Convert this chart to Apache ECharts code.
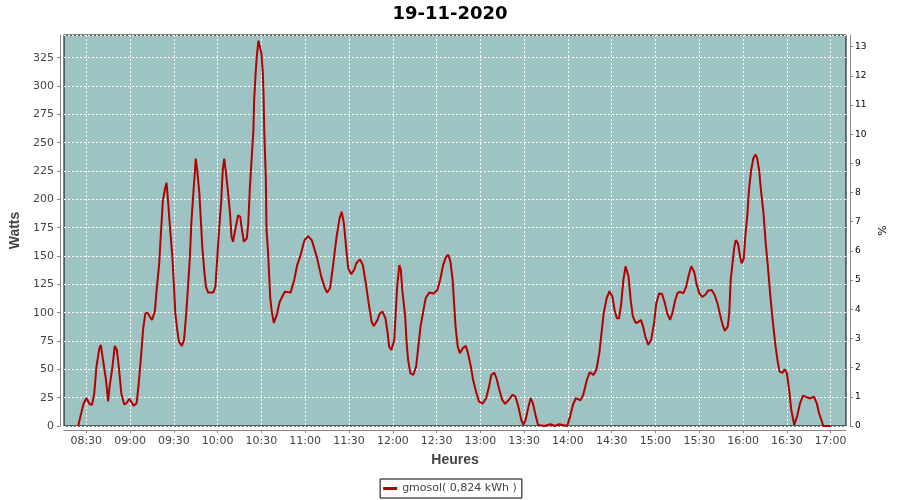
<!DOCTYPE html>
<html>
<head>
<meta charset="utf-8">
<script src="https://cdn.jsdelivr.net/npm/echarts@6/dist/echarts.min.js"></script>
<style>html,body{margin:0;padding:0;background:#fff}#c{width:900px;height:500px}</style>
</head>
<body>
<div id="c"></div>
<script>
const chartTitle = '19-11-2020';
const seriesName = 'gmosol( 0,824 kWh )';
const xTickLabels = ['08:30','09:00','09:30','10:00','10:30','11:00','11:30','12:00','12:30','13:00','13:30','14:00','14:30','15:00','15:30','16:00','16:30','17:00'];
const times = [
'08:24:30','08:26:00','08:28:00','08:30:00','08:32:30','08:34:00','08:35:30','08:37:00','08:39:00','08:40:00',
'08:41:30','08:43:30','08:45:00','08:46:00','08:48:00','08:49:30','08:51:00','08:52:30','08:54:00','08:56:00',
'08:57:30','08:59:30','09:01:00','09:02:30','09:04:30','09:06:00','09:07:30','09:09:00','09:10:30','09:12:00',
'09:13:30','09:15:00','09:17:00','09:18:00','09:20:00','09:21:00','09:22:30','09:24:00','09:25:00','09:26:00',
'09:27:30','09:29:00','09:30:00','09:31:00','09:32:30','09:33:30','09:35:30','09:37:00','09:38:30','09:39:30',
'09:41:00','09:42:00','09:43:30','09:44:30','09:45:00','09:46:00','09:47:30','09:48:30','09:49:30','09:51:00',
'09:52:00','09:53:30','09:57:00','09:58:30','09:59:30','10:01:00','10:02:30','10:03:30','10:04:30','10:05:30',
'10:07:00','10:08:30','10:09:30','10:10:30','10:12:30','10:14:00','10:15:30','10:16:30','10:18:00','10:20:00',
'10:21:00','10:22:00','10:23:30','10:24:30','10:25:00','10:26:00','10:27:00','10:28:00','10:29:00','10:30:00',
'10:31:00','10:31:30','10:32:00','10:33:00','10:33:30','10:34:30','10:36:00','10:37:00','10:38:30','10:40:30',
'10:42:30','10:46:00','10:50:00','10:52:30','10:54:30','10:56:30','10:59:30','11:02:00','11:04:30','11:08:00',
'11:11:00','11:13:30','11:15:00','11:17:00','11:19:00','11:21:30','11:23:30','11:25:00','11:26:30','11:28:00',
'11:29:30','11:31:30','11:33:30','11:35:00','11:37:30','11:39:30','11:41:30','11:43:30','11:45:30','11:47:00',
'11:49:30','11:51:00','11:53:00','11:55:00','11:56:30','11:57:30','11:59:00','12:01:00','12:02:00','12:03:00',
'12:04:30','12:05:30','12:06:30','12:08:30','12:09:30','12:10:30','12:12:00','12:14:00','12:16:00','12:17:30',
'12:19:00','12:21:00','12:22:30','12:25:00','12:28:00','12:30:30','12:32:30','12:34:30','12:36:30','12:38:00',
'12:39:30','12:41:00','12:42:00','12:43:00','12:44:30','12:46:00','12:48:00','12:50:00','12:51:30','12:53:30',
'12:55:00','12:57:00','12:59:00','13:01:30','13:04:00','13:06:00','13:07:30','13:09:30','13:11:00','13:13:00',
'13:15:00','13:17:00','13:19:30','13:22:00','13:24:00','13:26:00','13:28:00','13:29:30','13:31:00','13:33:00',
'13:34:30','13:36:00','13:38:00','13:39:30','13:40:30','13:44:00','13:45:00','13:48:00','13:49:00','13:51:00',
'13:52:00','13:54:00','13:55:00','13:59:30','14:01:30','14:03:30','14:05:30','14:08:30','14:10:30','14:13:00',
'14:15:00','14:17:30','14:19:30','14:21:30','14:23:00','14:24:30','14:26:30','14:28:30','14:30:30','14:32:00',
'14:33:30','14:35:00','14:36:30','14:38:00','14:39:30','14:41:30','14:43:00','14:44:30','14:46:30','14:48:30',
'14:50:00','14:51:30','14:53:00','14:55:00','14:57:00','14:59:00','15:00:30','15:02:30','15:04:30','15:06:30',
'15:08:00','15:10:00','15:11:30','15:13:30','15:15:00','15:16:30','15:19:00','15:21:00','15:22:30','15:24:30',
'15:26:30','15:28:00','15:30:00','15:32:00','15:34:00','15:36:00','15:38:30','15:40:30','15:42:30','15:44:00',
'15:46:00','15:47:30','15:49:30','15:50:30','15:51:30','15:53:00','15:54:00','15:55:00','15:56:30','15:58:00',
'15:59:00','16:00:30','16:01:30','16:03:00','16:04:00','16:05:30','16:07:00','16:08:30','16:09:30','16:11:00',
'16:12:00','16:14:00','16:15:30','16:17:00','16:18:30','16:20:00','16:22:00','16:23:30','16:25:00','16:27:00',
'16:28:30','16:30:00','16:31:30','16:33:00','16:35:00','16:35:30','16:37:00','16:39:00','16:41:00','16:43:30',
'16:46:00','16:48:30','16:50:30','16:52:00','16:54:00','16:55:00','17:00:00'
];
const watts = [
0,8.5,19,24.7,19,19,29,52.5,68.7,71.6,
58,40.8,21.7,35,52.5,70.7,67,49.6,29,19,
20,24,21,18,20,38,61,86,99.5,100,
96.5,93.6,101,117,143.5,167,199,209.6,214.6,199,
173,149,126,99.5,83,74.5,70.7,76,99.5,118.5,
149,179,208,225.7,236,225.7,205,181.7,158,134.7,
123,117.7,117.7,123,143.5,173,199,225.7,236,225.7,
208,187.6,167,162.6,175.8,186,184.6,174.4,162.6,165.6,
178.8,208,240,261,287,311,328.5,340,341.7,328.5,
311,290,258,220,173,155,114,102,91,98,
109.7,118.5,117.7,129,142,149.4,164,167.6,164,149,
131.8,121.5,117.7,121.5,140.6,167,183,189,178.8,158,
139,134,137.7,143.6,147,142,126,108,92,88.3,
93.6,99,101,95,82,70,67,76,99.5,123,
142,137.7,120,96.5,73,58.4,46.7,45,52.5,70,
87.7,102,112.7,117.7,117,120,129,142,149.4,151,
145,129,108,87.7,70,64.3,68.7,70.7,64.3,52.5,
40.8,30.5,21.7,19.6,24.7,35,45,47,42.3,32,
23,19.6,23,27.6,26,17.3,5.5,1,5.5,17.3,
24.7,20,8.5,1,0,0,1.5,1.5,0,0,
1.5,1.5,0,0,8.5,19,24.7,22.6,27.6,40.8,
47.5,45,49.6,64.3,82,99.5,112.7,119,114,102,
95,95,108,129,141,131.8,111,96.5,90.7,92,
93.6,87.7,79,71.6,76,90.7,108,117,116.5,108,
99.5,93.6,99.5,111,117,118.5,117,123,131.8,141,
136,126,117,114,115.6,119.4,120,115.6,108,99.5,
89,84,87.7,99.5,129,146.5,158,164,161,149,
143.5,148,167,187.6,208,225.7,236,239.6,237,225.7,
211,187.6,161,140.6,117,96.5,73,58.4,48,47,
50,46.7,32,14.4,1,0,8.5,20,26.7,25.5,
24.3,26,20,11.4,4,0,0
];
const xStart = '08:14:45';
const xEnd = '17:10:30';
const leftMax = 345;
const rightMax = 13.4;

// minutes since midnight
function toMin(s) {
  const p = s.split(':').map(Number);
  return p[0] * 60 + p[1] + (p[2] || 0) / 60;
}
function pad(n) { return (n < 10 ? '0' : '') + n; }
function fmt(v) { const m = Math.round(v); return pad(Math.floor(m / 60)) + ':' + pad(m % 60); }

const data = times.map((t, i) => [toMin(t), watts[i]]);
const xTickValues = xTickLabels.map(toMin);
const labelColor = '#444';
const axisGray = '#888';

const chart = echarts.init(document.getElementById('c'), null, { renderer: 'canvas' });
chart.setOption({
  animation: false,
  backgroundColor: '#fff',
  title: {
    text: chartTitle,
    left: 'center',
    top: 5,
    padding: 0,
    textStyle: { fontFamily: 'DejaVu Sans', fontWeight: 'bold', fontSize: 18, color: '#000' }
  },
  legend: {
    data: [seriesName],
    bottom: 2,
    left: 'center',
    borderColor: '#000',
    borderWidth: 1,
    borderRadius: 0,
    padding: [4, 5, 4, 3],
    itemWidth: 14,
    itemHeight: 3,
    itemGap: 5,
    icon: 'rect',
    textStyle: { fontFamily: 'DejaVu Sans', fontSize: 11, color: labelColor }
  },
  grid: {
    left: 64, right: 54, top: 35, bottom: 74,
    show: true,
    backgroundColor: '#9dc3c2',
    borderColor: '#000',
    borderWidth: 1,
    containLabel: false
  },
  xAxis: {
    type: 'value',
    min: toMin(xStart),
    max: toMin(xEnd),
    offset: 4,
    name: 'Heures',
    nameLocation: 'middle',
    nameGap: 23,
    nameTextStyle: { fontFamily: 'Liberation Sans', fontWeight: 'bold', fontSize: 14, color: labelColor },
    axisLine: { show: true, onZero: false, lineStyle: { color: axisGray, width: 1 } },
    axisTick: { show: true, length: 3, customValues: xTickValues, lineStyle: { color: axisGray } },
    axisLabel: {
      color: labelColor, fontFamily: 'DejaVu Sans', fontSize: 11, margin: 6,
      customValues: xTickValues, hideOverlap: false,
      formatter: fmt
    },
    splitLine: { show: true, lineStyle: { color: '#fff', type: [2, 2], width: 1 } }
  },
  yAxis: [
    {
      type: 'value',
      min: 0, max: leftMax, interval: 25,
      position: 'left',
      offset: 4,
      name: 'Watts',
      nameLocation: 'middle',
      nameGap: 30,
      nameRotate: 90,
      nameTextStyle: { fontFamily: 'Liberation Sans', fontWeight: 'bold', fontSize: 14, color: labelColor },
      axisLine: { show: true, lineStyle: { color: axisGray, width: 1 } },
      axisTick: { show: true, length: 3, lineStyle: { color: axisGray } },
      axisLabel: { color: labelColor, fontFamily: 'DejaVu Sans', fontSize: 11, margin: 6, showMaxLabel: false },
      splitLine: { show: true, lineStyle: { color: '#fff', type: [2, 2], width: 1 } }
    },
    {
      type: 'value',
      min: 0, max: rightMax, interval: 1,
      position: 'right',
      offset: 4,
      name: '%',
      nameLocation: 'middle',
      nameGap: 27,
      nameRotate: 90,
      nameTextStyle: { fontFamily: 'DejaVu Sans', fontSize: 11, color: '#000' },
      axisLine: { show: true, lineStyle: { color: axisGray, width: 1 } },
      axisTick: { show: true, length: 3, lineStyle: { color: axisGray } },
      axisLabel: { color: '#000', fontFamily: 'DejaVu Sans', fontSize: 9, margin: 5, showMaxLabel: false },
      splitLine: { show: false }
    }
  ],
  series: [{
    name: seriesName,
    type: 'line',
    yAxisIndex: 0,
    data: data,
    showSymbol: false,
    symbol: 'none',
    smooth: false,
    lineStyle: { color: '#b40000', width: 2 },
    itemStyle: { color: '#b40000' }
  }]
});
</script>
</body>
</html>
